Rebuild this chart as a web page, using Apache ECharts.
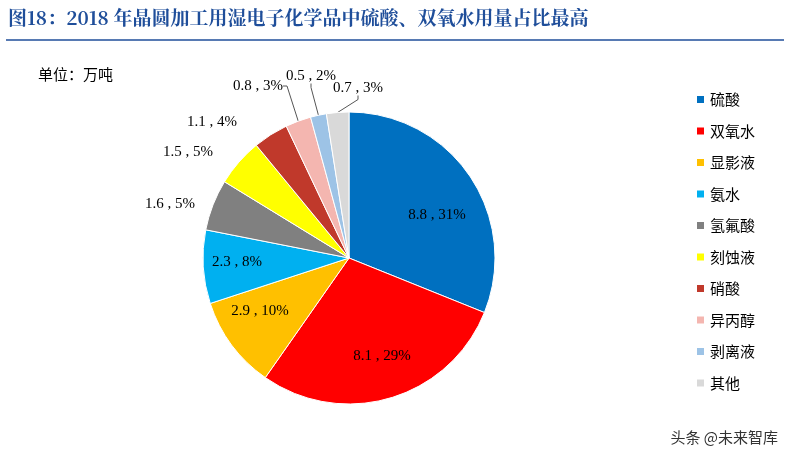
<!DOCTYPE html>
<html><head><meta charset="utf-8">
<script src="https://cdn.jsdelivr.net/npm/echarts@6/dist/echarts.min.js"></script>
<style>body{margin:0;background:#fff}#c{width:790px;height:459px}</style></head>
<body><div id="c"></div>
<script>
const categories=['硫酸','双氧水','显影液','氨水','氢氟酸','刻蚀液','硝酸','异丙醇','剥离液','其他'];
const values=[8.8,8.1,2.9,2.3,1.6,1.5,1.1,0.8,0.5,0.7];
const percents=[31,29,10,8,5,5,4,3,2,3];
const colors=['#0070C0','#FF0000','#FFC000','#00B0F0','#808080','#FFFF00','#C0392B','#F4B6B0','#9DC3E6','#D9D9D9'];
const labelPos=[[437,215],[382,356],[260,311],[237,262],[170,204],[188,152],[212,122],[258,86],[311,76],[358,88]];
const chart=echarts.init(document.getElementById('c'));
const data=categories.map((n,i)=>{
  const inside=i<4;
  return {name:n,value:values[i],itemStyle:{color:colors[i]},
    label:{position:inside?'inside':'outside',formatter:values[i]+' , '+percents[i]+'%'},
    labelLine:{show:i>=7,length:10,length2:4,lineStyle:{color:'#555'}}};
});
chart.setOption({
  animation:false,
  graphic:[
    {type:'text',left:8,top:8,style:{text:'图18：2018 年晶圆加工用湿电子化学品中硫酸、双氧水用量占比最高',fill:'#1F4E9A',font:'bold 19px "Noto Serif CJK SC","Liberation Serif","Noto Sans CJK SC",serif'}},
    {type:'line',shape:{x1:6,y1:40,x2:784,y2:40},style:{stroke:'#1F4E9A',lineWidth:1.5}},
    {type:'text',left:38,top:67,style:{text:'单位：万吨',fill:'#000',font:'15px "Noto Sans CJK SC",serif'}},
    {type:'text',right:12,bottom:14,style:{text:'头条 @未来智库',fill:'#333',font:'15px "Noto Sans CJK SC",sans-serif'}}
  ],
  legend:{orient:'vertical',left:690,top:87,itemWidth:9,itemHeight:9,itemGap:16.5,icon:'rect',
    textStyle:{fontSize:15,color:'#000',fontFamily:'"Noto Sans CJK SC",sans-serif'},data:categories},
  series:[{type:'pie',center:[349,258],radius:[0,146],startAngle:90,clockwise:true,
    label:{fontSize:15,color:'#000',fontFamily:'"Liberation Serif",serif'},
    labelLayout:function(p){const q=labelPos[p.dataIndex];return {x:q[0],y:q[1],align:'center',verticalAlign:'middle'};},
    itemStyle:{borderColor:'#fff',borderWidth:1},
    data:data}]
});
</script></body></html>
